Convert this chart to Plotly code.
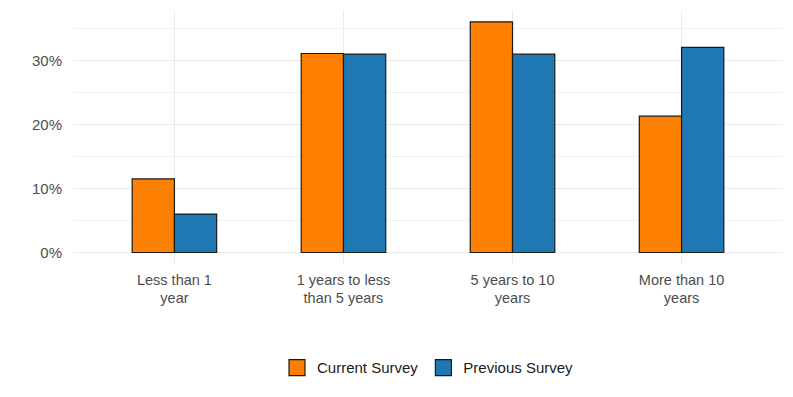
import plotly.graph_objects as go

categories = ["Less than 1<br>year", "1 years to less<br>than 5 years", "5 years to 10<br>years", "More than 10<br>years"]
current_survey = [0.115, 0.311, 0.3605, 0.213]
previous_survey = [0.060, 0.310, 0.310, 0.3205]
series_names = ["Current Survey", "Previous Survey"]
series_colors = ["#FF7F00", "#1F78B4"]
y_tickvals = [0, 0.1, 0.2, 0.3]
y_ticktext = ["0%", "10%", "20%", "30%"]
y_minor = [0.05, 0.15, 0.25, 0.35]

font_family = "Liberation Sans, Arial, sans-serif"

fig = go.Figure()
for name, vals, col in zip(series_names, [current_survey, previous_survey], series_colors):
    fig.add_trace(go.Bar(
        x=categories, y=vals, name=name, showlegend=False,
        marker=dict(color=col, line=dict(color="#1a1a1a", width=1.2)),
    ))
# legend keys (square swatches like ggplot)
for name, col in zip(series_names, series_colors):
    fig.add_trace(go.Scatter(
        x=[None], y=[None], mode="markers", name=name, showlegend=True,
        marker=dict(symbol="square", size=16, color=col, line=dict(color="#1a1a1a", width=1.2)),
    ))

# page body has an 8px default margin, so shift the figure's plot area up/left
fig.update_layout(
    width=793, height=397,
    margin=dict(l=65, r=18, t=2, b=141, autoexpand=False),
    paper_bgcolor="white", plot_bgcolor="white",
    barmode="group", bargap=0.5, bargroupgap=0,
    font=dict(family=font_family, size=15, color="#4d4d4d"),
    showlegend=True,
    legend=dict(orientation="h", x=0.5, xanchor="center", y=-0.409, yanchor="middle",
                font=dict(size=15, color="#1a1a1a"), traceorder="normal",
                itemwidth=30, itemsizing="trace"),
    xaxis=dict(
        showgrid=True, gridcolor="#ebebeb", gridwidth=1.2,
        showline=False, zeroline=False, ticks="",
        tickfont=dict(size=14.5, color="#4d4d4d"),
        range=[-0.6, 3.6], automargin=False, ticklabelstandoff=5,
    ),
    yaxis=dict(
        range=[-0.018, 0.379],
        tickvals=y_tickvals, ticktext=y_ticktext,
        showgrid=True, gridcolor="#ebebeb", gridwidth=1.2,
        minor=dict(tickvals=y_minor, showgrid=True, gridcolor="#f2f2f2", gridwidth=1),
        zeroline=False, showline=False, ticks="",
        tickfont=dict(size=15, color="#4d4d4d"),
        automargin=False, ticklabelstandoff=10,
    ),
)

fig.write_html("out.html")
